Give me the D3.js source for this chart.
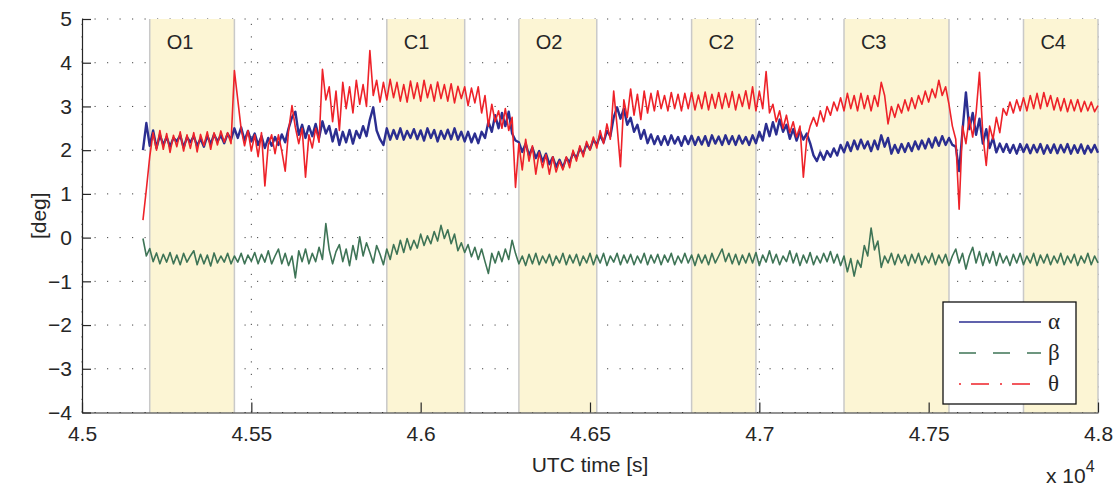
<!DOCTYPE html>
<html>
<head>
<meta charset="utf-8">
<script src="https://cdn.jsdelivr.net/npm/d3@7"></script>
<style>
  html, body { margin: 0; padding: 0; background: #fff; }
  svg { display: block; font-family: "Liberation Sans", Arial, Helvetica, sans-serif; }
</style>
</head>
<body>
<svg id="chart" width="1117" height="490"></svg>
<script>
// Sampling of the attitude angle records (UTC seconds)
const startTime = 45180;
const sampleStep = 10;

// Manoeuvre windows: label, start, end (UTC s)
const phaseLabels = ["O1", "C1", "O2", "C2", "C3", "C4"];
const phaseStart = [45200, 45900, 46290, 46800, 47250, 47780];
const phaseEnd   = [45450, 46130, 46520, 46990, 47560, 48000];

// Axis ticks
const xTicks = [45000, 45500, 46000, 46500, 47000, 47500, 48000];
const xTickLabels = ["4.5", "4.55", "4.6", "4.65", "4.7", "4.75", "4.8"];
const yTicks = [-4, -3, -2, -1, 0, 1, 2, 3, 4, 5];

// alpha [deg]
const alpha = [
  2.00, 2.62, 2.10, 2.45, 2.05, 2.35, 2.12, 2.30, 2.08, 2.28,
  2.20, 2.34, 2.06, 2.30, 2.18, 2.32, 2.10, 2.26, 2.08, 2.33,
  2.14, 2.36, 2.20, 2.34, 2.16, 2.38, 2.24, 2.50, 2.28, 2.52,
  2.22, 2.44, 2.20, 2.38, 2.12, 2.32, 2.05, 2.28, 2.10, 2.30,
  2.12, 2.36, 2.18, 2.50, 2.75, 2.88, 2.35, 2.58, 2.28, 2.55,
  2.32, 2.60, 2.28, 2.66, 2.38, 2.55, 2.20, 2.48, 2.12, 2.42,
  2.18, 2.46, 2.15, 2.44, 2.28, 2.55, 2.32, 2.70, 2.98, 2.45,
  2.25, 2.12, 2.50, 2.24, 2.46, 2.26, 2.50, 2.24, 2.44, 2.28,
  2.48, 2.25, 2.45, 2.22, 2.50, 2.28, 2.46, 2.20, 2.44, 2.26,
  2.47, 2.25, 2.50, 2.24, 2.42, 2.20, 2.42, 2.18, 2.38, 2.16,
  2.42, 2.28, 2.65, 2.42, 2.80, 2.50, 2.85, 2.55, 2.88, 2.38,
  2.22, 2.18, 1.96, 2.15, 1.88, 2.06, 1.82, 1.98, 1.74, 1.92,
  1.68, 1.84, 1.62, 1.78, 1.60, 1.82, 1.72, 1.94, 1.82, 2.04,
  1.92, 2.14, 2.02, 2.24, 2.12, 2.34, 2.18, 2.44, 2.32, 2.75,
  2.98, 2.72, 2.95, 2.58, 2.74, 2.42, 2.58, 2.26, 2.46, 2.16,
  2.36, 2.14, 2.32, 2.12, 2.32, 2.12, 2.34, 2.15, 2.30, 2.10,
  2.32, 2.14, 2.33, 2.12, 2.30, 2.13, 2.32, 2.10, 2.34, 2.15,
  2.31, 2.12, 2.34, 2.14, 2.32, 2.12, 2.33, 2.15, 2.30, 2.12,
  2.34, 2.16, 2.42, 2.22, 2.60, 2.32, 2.64, 2.36, 2.70, 2.42,
  2.58, 2.26, 2.48, 2.22, 2.44, 2.24, 2.38, 2.16, 1.88, 1.75,
  1.95, 1.78, 1.98, 1.85, 2.04, 1.88, 2.12, 1.95, 2.18, 1.98,
  2.22, 2.02, 2.24, 2.04, 2.20, 1.98, 2.22, 2.02, 2.34, 2.08,
  2.28, 1.92, 2.12, 1.94, 2.14, 1.96, 2.16, 1.98, 2.20, 2.02,
  2.22, 2.04, 2.26, 2.06, 2.29, 2.10, 2.32, 2.12, 2.28, 2.12,
  2.08, 1.52, 2.45, 3.32, 2.48, 2.85, 2.35, 2.72, 2.15, 2.48,
  2.05, 2.28, 1.95, 2.15, 1.96, 2.14, 1.94, 2.12, 1.92, 2.14,
  1.96, 2.13, 1.93, 2.12, 1.95, 2.14, 1.92, 2.11, 1.94, 2.13,
  1.93, 2.12, 1.95, 2.14, 1.92, 2.11, 1.94, 2.13, 1.92, 2.10,
  1.95, 2.12, 1.94
];

// beta [deg]
const beta = [
  -0.02, -0.42, -0.25, -0.55, -0.35, -0.60, -0.38, -0.56, -0.34, -0.60,
  -0.40, -0.62, -0.36, -0.56, -0.42, -0.30, -0.62, -0.38, -0.60, -0.40,
  -0.65, -0.35, -0.58, -0.42, -0.56, -0.36, -0.60, -0.42, -0.56, -0.36,
  -0.60, -0.40, -0.54, -0.34, -0.60, -0.38, -0.56, -0.30, -0.60, -0.42,
  -0.26, -0.60, -0.36, -0.64, -0.42, -0.92, -0.30, -0.55, -0.26, -0.60,
  -0.36, -0.55, -0.22, -0.50,  0.32, -0.28, -0.60, -0.32, -0.16, -0.55,
  -0.26, -0.64, -0.18, -0.50,  0.02, -0.42, -0.12, -0.34, -0.58, -0.18,
  -0.38, -0.62, -0.26, -0.50, -0.16, -0.38, -0.06, -0.34, -0.02, -0.28,
  -0.06, -0.24,  0.08, -0.18,  0.04, -0.14,  0.14, -0.08,  0.28, -0.02,
   0.18, -0.14,  0.08, -0.30, -0.12, -0.34, -0.16, -0.44, -0.22, -0.50,
  -0.26, -0.55, -0.82, -0.36, -0.58, -0.32, -0.55, -0.26, -0.50, -0.06,
  -0.36, -0.60, -0.42, -0.64, -0.38, -0.60, -0.36, -0.62, -0.42, -0.58,
  -0.38, -0.64, -0.42, -0.58, -0.36, -0.62, -0.40, -0.58, -0.38, -0.64,
  -0.42, -0.58, -0.36, -0.62, -0.40, -0.58, -0.36, -0.64, -0.42, -0.56,
  -0.36, -0.62, -0.40, -0.58, -0.38, -0.62, -0.42, -0.58, -0.36, -0.62,
  -0.40, -0.58, -0.38, -0.62, -0.40, -0.56, -0.36, -0.62, -0.42, -0.58,
  -0.36, -0.58, -0.40, -0.64, -0.38, -0.58, -0.40, -0.62, -0.36, -0.58,
  -0.42, -0.26, -0.55, -0.36, -0.60, -0.38, -0.62, -0.40, -0.58, -0.36,
  -0.58, -0.34, -0.64, -0.40, -0.56, -0.30, -0.58, -0.38, -0.62, -0.42,
  -0.55, -0.30, -0.58, -0.36, -0.64, -0.40, -0.58, -0.34, -0.62, -0.42,
  -0.58, -0.36, -0.55, -0.32, -0.58, -0.38, -0.64, -0.42, -0.78, -0.48,
  -0.88, -0.52, -0.68, -0.18, -0.42,  0.22, -0.28, -0.08, -0.68, -0.42,
  -0.58, -0.36, -0.62, -0.38, -0.58, -0.40, -0.64, -0.38, -0.58, -0.36,
  -0.62, -0.42, -0.58, -0.36, -0.62, -0.40, -0.58, -0.38, -0.64, -0.42,
  -0.26, -0.58, -0.36, -0.72, -0.42, -0.22, -0.58, -0.32, -0.64, -0.36,
  -0.58, -0.32, -0.64, -0.36, -0.58, -0.42, -0.64, -0.38, -0.58, -0.36,
  -0.62, -0.42, -0.58, -0.36, -0.64, -0.40, -0.58, -0.38, -0.62, -0.42,
  -0.58, -0.36, -0.62, -0.42, -0.58, -0.38, -0.64, -0.42, -0.58, -0.36,
  -0.62, -0.42, -0.58
];

// theta [deg]
const theta = [
  0.40, 1.10, 1.85, 2.40, 2.00, 2.45, 2.02, 2.38, 1.95, 2.34,
  2.08, 2.42, 1.98, 2.35, 2.04, 2.40, 1.96, 2.36, 2.10, 2.42,
  2.02, 2.40, 2.12, 2.44, 2.18, 2.40, 2.15, 3.82, 3.15, 2.48,
  2.10, 2.45, 1.98, 2.35, 1.85, 2.40, 1.18, 2.12, 2.35, 1.92,
  2.35, 1.98, 1.52, 2.45, 3.02, 2.52, 2.15, 2.50, 1.38, 2.35,
  2.05, 2.50, 2.18, 3.85, 3.15, 3.45, 2.65, 3.35, 2.45, 3.55,
  2.95, 3.45, 2.85, 3.60, 3.05, 3.50, 3.00, 4.28, 3.25, 3.60,
  3.10, 3.55, 3.15, 3.62, 3.20, 3.55, 3.12, 3.50, 3.10, 3.58,
  3.18, 3.54, 3.12, 3.60, 3.20, 3.50, 3.12, 3.56, 3.18, 3.50,
  3.12, 3.52, 3.08, 3.46, 3.18, 3.45, 3.02, 3.42, 3.08, 3.45,
  2.85, 3.25, 2.55, 3.05, 2.65, 2.90, 2.50, 2.95, 2.45, 2.75,
  1.15, 2.15, 1.55, 2.25, 1.75, 2.10, 1.45, 1.95, 1.60, 1.90,
  1.45, 1.85, 1.50, 1.75, 1.55, 1.85, 1.60, 2.00, 1.75, 2.10,
  1.85, 2.20, 2.00, 2.30, 2.05, 2.45, 2.15, 2.60, 2.25, 3.35,
  2.55, 1.62, 3.15, 2.75, 3.40, 2.80, 3.28, 2.70, 3.35, 2.85,
  3.30, 2.90, 3.36, 2.95, 3.25, 2.90, 3.32, 2.95, 3.28, 2.90,
  3.30, 2.95, 3.32, 2.92, 3.26, 2.95, 3.33, 2.92, 3.28, 2.96,
  3.32, 2.95, 3.30, 2.98, 3.34, 2.92, 3.28, 3.00, 3.36, 2.95,
  3.45, 2.90, 3.35, 2.95, 3.80, 2.85, 3.05, 2.65, 2.90, 2.50,
  2.80, 2.40, 2.65, 2.30, 2.55, 1.38, 2.25, 2.55, 2.75, 2.55,
  2.90, 2.65, 3.00, 2.80, 3.10, 2.90, 3.20, 2.90, 3.30, 2.95,
  3.25, 2.90, 3.30, 2.95, 3.25, 2.90, 3.25, 3.00, 3.55, 3.25,
  2.60, 3.00, 2.75, 3.05, 2.85, 3.15, 2.90, 3.20, 2.95, 3.25,
  3.05, 3.35, 3.10, 3.40, 3.20, 3.60, 3.25, 3.45, 3.05, 2.55,
  2.25, 0.65, 2.55, 2.15, 2.75, 2.30, 2.85, 3.78, 2.35, 1.65,
  2.55, 2.25, 2.75, 2.40, 2.95, 2.80, 3.10, 2.85, 3.15, 2.90,
  3.20, 2.90, 3.25, 2.95, 3.30, 2.95, 3.32, 3.00, 3.25, 2.92,
  3.20, 2.90, 3.18, 2.88, 3.15, 2.90, 3.16, 2.88, 3.12, 2.90,
  3.10, 2.88, 3.02
];

const seriesNames = ["\u03b1", "\u03b2", "\u03b8"];
const seriesValues = [alpha, beta, theta];
const seriesColors = ["#2b2e90", "#3e7456", "#ee2229"];
const legendDash = [null, "17,17", "2,10,18,11"];
const seriesWidth = [2.4, 1.6, 1.6];

const svg = d3.select("#chart");
const margin = { left: 82, right: 1098, top: 19, bottom: 412.5 };

const x = d3.scaleLinear().domain([45000, 48000]).range([margin.left, margin.right]);
const y = d3.scaleLinear().domain([-4, 5]).range([margin.bottom, margin.top]);
const axisColor = "#262626";

// Dotted grid
const grid = svg.append("g").attr("stroke", "#444").attr("stroke-width", 1)
  .attr("stroke-dasharray", "1.2,11.3");
grid.selectAll("line.gy").data(yTicks).join("line")
  .attr("x1", margin.left).attr("x2", margin.right)
  .attr("y1", d => y(d)).attr("y2", d => y(d));
grid.selectAll("line.gx").data(xTicks).join("line")
  .attr("y1", margin.bottom).attr("y2", margin.top)
  .attr("x1", d => x(d)).attr("x2", d => x(d));

// Manoeuvre windows
const phases = phaseLabels.map((label, i) => ({ label, s: phaseStart[i], e: phaseEnd[i] }));
const pg = svg.append("g");
pg.selectAll("rect").data(phases).join("rect")
  .attr("x", d => x(d.s)).attr("width", d => x(d.e) - x(d.s))
  .attr("y", margin.top).attr("height", margin.bottom - margin.top)
  .attr("fill", "#fcf5d4");
pg.selectAll("line.edge").data(phases.flatMap(d => [d.s, d.e])).join("line")
  .attr("x1", d => x(d)).attr("x2", d => x(d))
  .attr("y1", margin.top).attr("y2", margin.bottom)
  .attr("stroke", "#c9c9c9").attr("stroke-width", 1.5);
pg.selectAll("text").data(phases).join("text")
  .attr("x", d => x(d.s + 50)).attr("y", 49)
  .attr("font-size", 20).attr("fill", axisColor)
  .text(d => d.label);

// Axes
const yAxis = d3.axisLeft(y).tickValues(yTicks).tickSizeInner(-9).tickSizeOuter(0).tickPadding(10)
  .tickFormat(d => d < 0 ? "\u2212" + Math.abs(d) : String(d));
const xAxis = d3.axisBottom(x).tickValues(xTicks).tickSizeInner(-10).tickSizeOuter(0).tickPadding(14)
  .tickFormat((d, i) => xTickLabels[i]);

const gy = svg.append("g").attr("transform", `translate(${margin.left},0)`).call(yAxis);
const gx = svg.append("g").attr("transform", `translate(0,${margin.bottom})`).call(xAxis);
[gx, gy].forEach(g => {
  g.select(".domain").attr("stroke", axisColor).attr("stroke-width", 1.2);
  g.selectAll(".tick line").attr("stroke", axisColor).attr("stroke-width", 1.2);
  g.selectAll(".tick text").attr("fill", axisColor).attr("font-size", 21)
    .attr("font-family", "Liberation Sans, Arial, sans-serif");
});

// Series (dense records, drawn as continuous traces)
const line = d3.line()
  .x((d, i) => x(startTime + i * sampleStep))
  .y(d => y(d));
const lg = svg.append("g").attr("fill", "none").attr("stroke-linejoin", "round");
seriesValues.forEach((vals, k) => {
  lg.append("path").datum(vals)
    .attr("d", line)
    .attr("stroke", seriesColors[k])
    .attr("stroke-width", seriesWidth[k]);
});

// Axis titles
svg.append("text").attr("x", x(46500)).attr("y", 472).attr("text-anchor", "middle")
  .attr("font-size", 21).attr("fill", axisColor).text("UTC time [s]");
svg.append("text").attr("transform", `translate(46,${(margin.top + margin.bottom) / 2}) rotate(-90)`)
  .attr("text-anchor", "middle").attr("font-size", 21).attr("fill", axisColor).text("[deg]");
const exp = svg.append("text").attr("x", 1046).attr("y", 483).attr("font-size", 21).attr("fill", axisColor);
exp.append("tspan").text("x 10");
exp.append("tspan").attr("dy", -11).attr("font-size", 16).text("4");

// Legend
const legend = svg.append("g");
legend.append("rect").attr("x", 943).attr("y", 302).attr("width", 133).attr("height", 102)
  .attr("fill", "#fff").attr("stroke", "#111").attr("stroke-width", 1.3);
const legY = [322, 353, 384];
seriesNames.forEach((name, k) => {
  legend.append("line").attr("x1", 959).attr("x2", 1041).attr("y1", legY[k]).attr("y2", legY[k])
    .attr("stroke", seriesColors[k]).attr("stroke-width", 1.4)
    .attr("stroke-dasharray", legendDash[k]);
  legend.append("text").attr("x", 1048).attr("y", legY[k] + 7)
    .attr("font-family", "Liberation Serif, Times New Roman, serif")
    .attr("font-size", 23).attr("fill", axisColor).text(name);
});
</script>
</body>
</html>
